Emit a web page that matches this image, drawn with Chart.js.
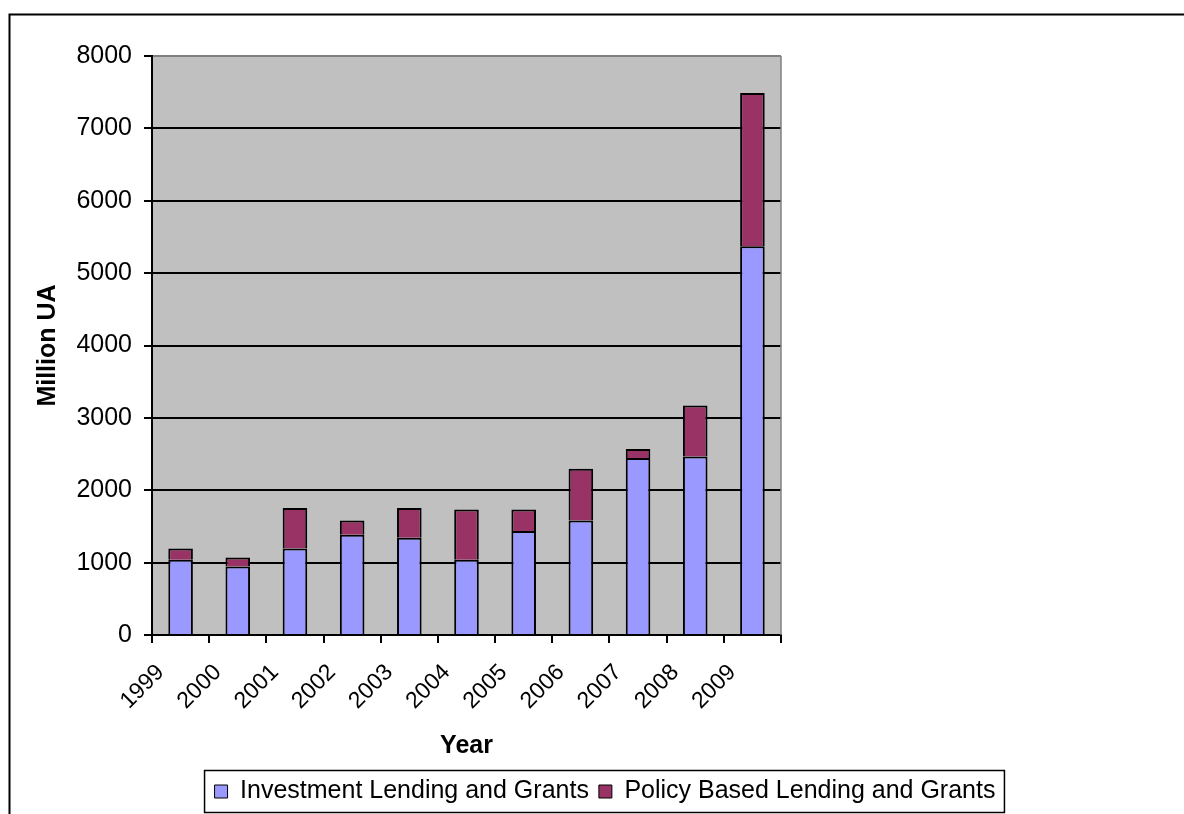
<!DOCTYPE html>
<html>
<head>
<meta charset="utf-8">
<title>Investment and Policy Based Lending 1999-2009</title>
<script src="https://cdn.jsdelivr.net/npm/chart.js@4.4.1/dist/chart.umd.min.js"></script>
<style>
  html, body { margin: 0; padding: 0; background: #fff; }
  canvas { display: block; }
</style>
</head>
<body>
<canvas id="lendingChart" width="1184" height="814"></canvas>
<script>
// Values (Million UA)
const years = ['1999', '2000', '2001', '2002', '2003', '2004', '2005', '2006', '2007', '2008', '2009'];
const investment = [1041, 948, 1194, 1384, 1343, 1041, 1438, 1583, 2444, 2467, 5372];
const policy = [153, 124, 562, 199, 413, 692, 295, 713, 125, 704, 2118];
const yTicks = [0, 1000, 2000, 3000, 4000, 5000, 6000, 7000, 8000];

const FONT = "'Liberation Sans', Arial, sans-serif";
Chart.defaults.color = '#000';
Chart.defaults.font.family = FONT;

// Excel look: gray plot area, outer frame, framed legend
const excelLook = {
    id: 'excelLook',
    beforeDraw(chart) {
        const ctx = chart.ctx;
        const a = chart.chartArea;
        ctx.save();
        ctx.fillStyle = '#fff';
        ctx.fillRect(0, 0, chart.width, chart.height);
        ctx.strokeStyle = '#000';
        ctx.lineWidth = 2;
        ctx.strokeRect(9.5, 14.5, 1400, 1000);
        ctx.fillStyle = '#c0c0c0';
        ctx.fillRect(a.left, a.top, a.right - a.left, a.bottom - a.top);
        ctx.restore();
    },
    afterDatasetsDraw(chart) {
        // right edge of the plot area is gray, not black
        const ctx = chart.ctx;
        const a = chart.chartArea;
        ctx.save();
        ctx.strokeStyle = '#808080';
        ctx.lineWidth = 1.5;
        ctx.beginPath();
        ctx.moveTo(a.right, a.top);
        ctx.lineTo(a.right, a.bottom);
        ctx.stroke();
        ctx.restore();
    },
    afterDraw(chart) {
        const boxes = chart.legend.legendHitBoxes;
        if (!boxes || !boxes.length) return;
        const first = boxes[0];
        const last = boxes[boxes.length - 1];
        const ctx = chart.ctx;
        ctx.save();
        ctx.strokeStyle = '#000';
        ctx.lineWidth = 1.5;
        const left = first.left - 10;
        const right = last.left + last.width + 9;
        const top = first.top - 8.5;
        const bottom = first.top + first.height + 8.5;
        ctx.strokeRect(left, top, right - left, bottom - top);
        ctx.restore();
    }
};

const ctx = document.getElementById('lendingChart').getContext('2d');
window.lendingChart = new Chart(ctx, {
    type: 'bar',
    data: {
        labels: years,
        datasets: [
            {
                label: 'Investment Lending and Grants',
                data: investment,
                backgroundColor: '#9999ff',
                borderColor: '#000',
                borderWidth: 2
            },
            {
                label: 'Policy Based Lending and Grants',
                data: policy,
                backgroundColor: '#993366',
                borderColor: '#000',
                borderWidth: 2
            }
        ]
    },
    options: {
        responsive: false,
        animation: false,
        datasets: {
            bar: { barPercentage: 0.43, categoryPercentage: 1 }
        },
        layout: {
            padding: { left: 26, right: 0, top: 56, bottom: 0 }
        },
        scales: {
            x: {
                stacked: true,
                grid: {
                    offset: true,
                    drawOnChartArea: false,
                    tickLength: 8,
                    color: '#000',
                    lineWidth: 2
                },
                border: { color: '#000', width: 2 },
                ticks: {
                    autoSkip: false,
                    minRotation: 45,
                    maxRotation: 45,
                    labelOffset: -20,
                    padding: 16,
                    font: { size: 23 }
                },
                title: {
                    display: true,
                    text: 'Year',
                    font: { size: 25, weight: 'bold' },
                    padding: { top: 0, bottom: 8 }
                },
                afterFit: scale => { scale.height = 134; }
            },
            y: {
                stacked: true,
                min: 0,
                max: 8000,
                afterBuildTicks: scale => { scale.ticks = yTicks.map(v => ({ value: v })); },
                grid: {
                    tickLength: 8,
                    lineWidth: 2,
                    tickColor: '#000',
                    color: c => (c.tick && c.tick.value === 8000 ? '#808080' : '#000')
                },
                border: { color: '#000', width: 2 },
                ticks: {
                    padding: 12,
                    font: { size: 25 },
                    callback: value => String(value)
                },
                title: {
                    display: true,
                    text: 'Million UA',
                    font: { size: 25, weight: 'bold' },
                    padding: { top: 7, bottom: 0 }
                },
                afterFit: scale => { scale.width = 126; }
            },
            // empty right-hand axis that holds the space right of the plot
            spacer: {
                type: 'linear',
                position: 'right',
                grid: { display: false },
                border: { display: false },
                ticks: { display: false },
                afterFit: scale => { scale.width = 403; }
            }
        },
        plugins: {
            legend: {
                position: 'bottom',
                labels: {
                    boxWidth: 13,
                    boxHeight: 13,
                    padding: 10,
                    font: { size: 25 },
                    generateLabels: chart =>
                        Chart.defaults.plugins.legend.labels.generateLabels(chart)
                            .map(item => ({ ...item, lineWidth: 1 }))
                }
            },
            tooltip: { enabled: false }
        }
    },
    plugins: [excelLook]
});
</script>
</body>
</html>
